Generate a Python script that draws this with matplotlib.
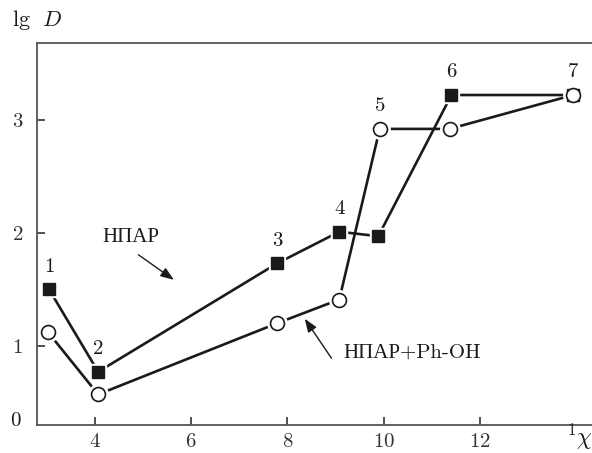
import matplotlib
matplotlib.use('Agg')
import matplotlib.pyplot as plt

plt.rcParams['font.family'] = ['cmr10', 'Liberation Serif', 'DejaVu Serif']
plt.rcParams['mathtext.fontset'] = 'cm'
plt.rcParams['axes.formatter.use_mathtext'] = True

# данные
chi = [3.05, 4.07, 7.79, 9.08, 9.89, 11.41, 13.94]
lgD_npav = [1.50, 0.77, 1.73, 2.01, 1.97, 3.22, 3.22]

chi_ph = [3.03, 4.07, 7.79, 9.08, 9.92, 11.37, 13.94]
lgD_ph = [1.12, 0.57, 1.20, 1.41, 2.92, 2.92, 3.22]

# номера точек: (подпись, x, y)
point_labels = [('1', 3.05, 1.50), ('2', 4.07, 0.77), ('3', 7.79, 1.73),
                ('4', 9.08, 2.01), ('5', 9.92, 2.92), ('6', 11.41, 3.22),
                ('7', 13.94, 3.22)]

xticks = [4, 6, 8, 10, 12]
yticks = [1, 2, 3]

fig = plt.figure(figsize=(5.92, 4.53), dpi=100)
ax = fig.add_axes([0.0625, 0.062, 0.9375, 0.843])

lc = '#1a1a1a'
# линии
ax.plot(chi, lgD_npav, color=lc, lw=1.9, zorder=2)
ax.plot(chi_ph, lgD_ph, color=lc, lw=1.9, zorder=2)
# белый ореол вокруг маркеров (разрыв линии у точки)
ax.plot(chi, lgD_npav, ls='none', marker='s', ms=12, color='white', zorder=3)
ax.plot(chi_ph, lgD_ph, ls='none', marker='o', ms=14, color='white', zorder=3)
# маркеры
ax.plot(chi, lgD_npav, ls='none', marker='s', ms=8.5, mfc=lc, mec=lc, zorder=4)
ax.plot(chi_ph, lgD_ph, ls='none', marker='o', ms=10, mfc='white', mec=lc,
        mew=1.2, zorder=5)

for lab, x, y in point_labels:
    ax.text(x, y + 0.12, lab, ha='center', va='bottom', fontsize=15, color=lc)

# подписи кривых со стрелками
ax.text(4.74, 1.96, 'НПАР', ha='center', va='center', fontsize=15, color=lc)
ax.annotate('', xy=(5.69, 1.57), xytext=(4.86, 1.82),
            arrowprops=dict(arrowstyle='-|>,head_length=0.8,head_width=0.3',
                            color=lc, lw=1.0))
ax.text(9.16, 0.94, 'НПАР+Ph-OH', ha='left', va='center', fontsize=15, color=lc)
ax.annotate('', xy=(8.33, 1.26), xytext=(8.95, 0.87),
            arrowprops=dict(arrowstyle='-|>,head_length=0.8,head_width=0.3',
                            color=lc, lw=1.0))

ax.set_xlim(2.8, 14.33)
ax.set_ylim(0.30, 3.68)
ax.set_xticks(xticks)
ax.set_yticks(yticks)
ax.tick_params(direction='in', length=6, width=1.2, labelsize=15,
               colors='#333333')
ax.tick_params(axis='x', pad=6)
ax.tick_params(axis='y', pad=10)
for s in ['left', 'bottom', 'top']:
    ax.spines[s].set_linewidth(1.3)
    ax.spines[s].set_color('#555555')
ax.spines['right'].set_visible(False)

# "0" у начала оси и подписи осей
ax.text(-0.03, 0.01, '0', transform=ax.transAxes, ha='right', va='center',
        fontsize=15, color=lc)
fig.text(0.02, 0.955, r'$\mathrm{lg}\ \ D$', fontsize=16, ha='left', va='center',
         color=lc)
fig.text(0.978, 0.035, r'$^{1}\chi$', fontsize=17, ha='center', va='center',
         color=lc)

fig.savefig('out.png', dpi=100)
